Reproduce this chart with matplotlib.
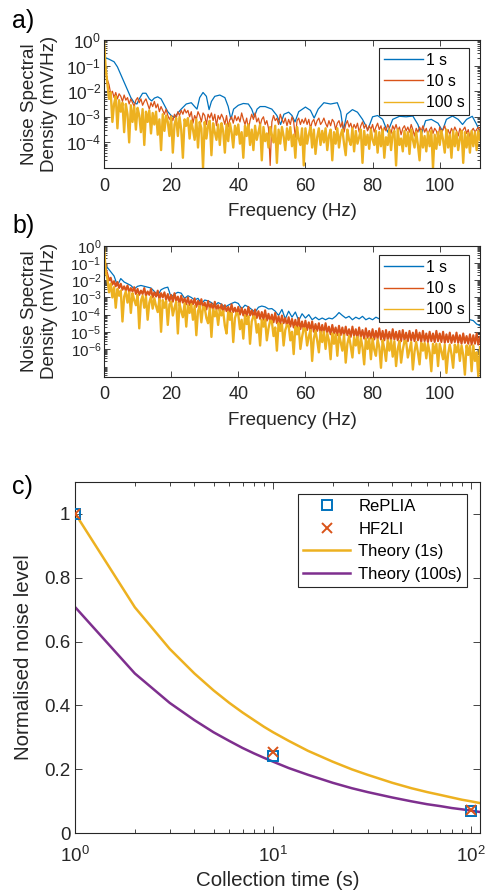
import numpy as np
import matplotlib
matplotlib.use("Agg")
import matplotlib.pyplot as plt
from matplotlib.ticker import LogLocator, NullFormatter

plt.rcParams['font.family'] = ['Liberation Sans', 'DejaVu Sans']
plt.rcParams['mathtext.fontset'] = 'custom'
plt.rcParams['mathtext.rm'] = 'Liberation Sans'
plt.rcParams['mathtext.it'] = 'Liberation Sans:italic'
plt.rcParams['mathtext.bf'] = 'Liberation Sans:bold'

BLUE = '#0072BD'
ORANGE = '#D95319'
YELLOW = '#EDB120'
PURPLE = '#7E2F8E'
AXC = '#262626'

# ---- data (log10 of noise spectral density, mV/Hz) ----
# 10 s and 100 s traces on a 0.5 Hz grid from 0 to 112 Hz
grid_freq = np.arange(0, 112.5, 0.5)

# panel a, 1 s trace: frequency / log10 value pairs
a_1s_freq = [0.3, 1.5, 3, 4, 5, 6, 7, 8, 9, 9.8, 10.5, 11.5, 12.5, 13.5, 14.2, 15, 16, 17, 18, 19,
             20, 21, 22, 23, 24.5, 26, 27, 27.7, 28.5, 29.5, 30.5, 31.3, 32, 33, 34.5, 36, 37, 37.8, 38.6, 40,
             41.5, 43, 44, 44.8, 45.6, 46.5, 48, 50, 51.5, 52.6, 53.6, 55, 56, 56.9, 58, 60, 61.5, 62.6, 63.8, 65.5,
             67.5, 69.5, 70.5, 71.3, 72.3, 74, 75.5, 77, 78.6, 80, 81.5, 83, 84.5, 86, 88, 90, 92, 93.5, 94.5, 95.8,
             97.5, 99.5, 100.8, 102, 103.8, 105.5, 106.8, 108, 109.7, 111, 112]
a_1s_log = [-0.68, -0.75, -0.85, -1.05, -1.35, -1.65, -1.95, -2.25, -2.45, -2.5, -2.3, -2.08, -2.08, -2.3, -2.38, -2.27, -2.22, -2.3, -2.55, -2.8,
            -2.95, -3.02, -2.85, -2.7, -2.5, -2.45, -2.6, -2.7, -2.25, -2.05, -2.2, -2.72, -2.4, -2.2, -2.15, -2.25, -2.6, -3.1, -2.7, -2.55,
            -2.48, -2.5, -2.7, -3.0, -2.7, -2.6, -2.6, -2.7, -2.95, -3.3, -2.9, -2.82, -2.95, -3.2, -2.8, -2.62, -2.75, -3.05, -2.7, -2.45,
            -2.5, -2.45, -2.8, -3.55, -2.9, -2.72, -2.82, -3.1, -3.5, -3.0, -2.95, -3.1, -3.6, -3.1, -2.98, -3.0, -2.97, -3.3, -3.7, -3.15,
            -3.1, -3.25, -3.55, -3.1, -2.97, -3.1, -3.3, -3.1, -2.98, -3.3, -3.6]

a_10s_log = [-0.95, -1.25, -1.55, -1.75, -2.1, -2.0, -2.25, -2.05, -2.3, -2.1,
             -2.2, -2.4, -2.15, -2.35, -2.25, -2.5, -2.3, -2.45, -2.6, -2.35,
             -2.25, -2.45, -2.3, -2.55, -2.4, -2.3, -2.5, -2.7, -2.45, -2.6,
             -2.4, -2.65, -2.5, -2.8, -2.6, -2.75, -2.9, -2.7, -2.95, -3.1,
             -2.95, -3.15, -2.9, -3.05, -2.8, -2.95, -2.75, -2.9, -2.7, -2.85,
             -2.75, -3.0, -2.8, -3.25, -2.95, -3.1, -2.8, -2.95, -3.2, -2.85,
             -2.95, -3.3, -2.9, -3.05, -2.85, -3.15, -2.9, -3.35, -2.95, -3.1,
             -2.9, -3.05, -3.3, -2.95, -3.4, -3.1, -3.0, -3.25, -2.95, -3.15,
             -3.0, -3.2, -2.85, -3.1, -3.3, -3.05, -3.5, -3.15, -2.9, -3.1,
             -2.85, -3.2, -3.05, -3.35, -3.1, -3.0, -3.3, -3.15, -3.45, -4.9,
             -3.2, -2.95, -3.15, -3.05, -3.3, -2.9, -3.1, -3.25, -3.05, -3.35,
             -3.1, -3.3, -3.0, -3.2, -3.8, -3.15, -3.05, -3.3, -3.1, -3.25,
             -3.05, -3.3, -3.1, -3.45, -3.2, -3.1, -3.35, -3.15, -3.05, -3.3,
             -3.2, -3.05, -3.25, -3.4, -3.15, -3.35, -3.1, -3.2, -3.5, -3.25,
             -3.15, -3.4, -3.2, -3.6, -3.3, -3.15, -3.4, -3.25, -3.5, -3.3,
             -3.45, -3.25, -3.6, -3.35, -3.2, -3.45, -3.3, -3.55, -3.35, -3.5,
             -3.3, -3.6, -3.4, -3.25, -3.5, -3.35, -3.7, -3.4, -3.55, -3.3,
             -3.45, -3.65, -3.35, -3.5, -3.3, -3.55, -3.4, -3.7, -3.45, -3.35,
             -3.55, -3.4, -3.6, -3.3, -3.5, -3.75, -3.45, -3.6, -3.4, -3.55,
             -3.35, -3.6, -3.45, -3.7, -3.5, -3.4, -3.65, -3.45, -3.55, -3.8,
             -3.4, -3.6, -3.5, -3.35, -3.65, -3.5, -3.7, -3.45, -3.6, -3.4,
             -3.55, -3.75, -3.45, -3.6, -3.5, -3.4, -3.65, -3.5, -3.8, -3.55,
             -3.45, -3.6, -3.5, -3.4, -3.55]

a_100s_log = [0.0, -1.1, -1.7, -2.3, -2.05, -3.2, -2.5, -2.2, -3.45, -2.35,
              -2.8, -2.45, -3.6, -2.5, -2.9, -4.0, -2.55, -3.2, -2.6, -3.5,
              -2.65, -2.95, -3.6, -2.7, -4.1, -2.8, -3.2, -2.75, -3.65, -2.85,
              -3.3, -2.8, -3.7, -3.1, -4.3, -2.9, -3.55, -2.95, -3.2, -3.75,
              -3.0, -4.4, -3.3, -3.05, -3.75, -3.0, -3.5, -4.6, -3.1, -3.35,
              -3.05, -3.85, -3.15, -3.5, -3.9, -3.1, -4.2, -3.2, -3.45, -5.0,
              -3.2, -3.85, -3.35, -3.15, -4.5, -3.25, -3.6, -3.9, -3.3, -4.1,
              -3.25, -3.55, -4.4, -3.3, -3.95, -3.25, -3.6, -4.2, -3.35, -3.7,
              -3.3, -4.05, -3.6, -4.6, -3.35, -3.75, -3.3, -4.1, -3.5, -4.3,
              -3.35, -3.9, -3.6, -3.3, -4.7, -3.4, -3.95, -3.65, -4.2, -3.4,
              -3.7, -4.0, -3.35, -4.8, -3.5, -4.05, -3.4, -3.75, -4.3, -3.45,
              -3.9, -3.4, -4.15, -3.7, -4.6, -3.4, -3.85, -4.1, -3.45, -4.9,
              -3.45, -4.05, -3.7, -3.4, -4.2, -3.5, -4.45, -3.8, -3.45, -4.1,
              -3.55, -4.0, -3.45, -4.3, -3.75, -3.5, -4.7, -3.6, -4.05, -3.45,
              -4.2, -3.7, -3.5, -4.05, -4.5, -3.5, -3.9, -4.1, -3.45, -4.35,
              -3.55, -4.05, -3.8, -3.5, -4.8, -3.55, -4.1, -3.7, -4.25, -3.5,
              -3.9, -4.1, -3.55, -4.4, -3.6, -4.15, -3.5, -4.6, -3.8, -4.1,
              -3.5, -4.3, -3.65, -3.55, -4.9, -3.5, -4.1, -3.85, -4.35, -3.55,
              -4.15, -3.6, -4.45, -3.5, -3.9, -4.2, -3.6, -4.1, -4.7, -3.55,
              -4.2, -3.75, -4.35, -3.6, -4.15, -3.55, -5.0, -3.7, -4.25, -3.6,
              -4.1, -3.55, -3.9, -4.4, -3.5, -4.2, -3.7, -4.6, -3.55, -4.15,
              -3.6, -4.3, -3.85, -3.55, -4.8, -3.6, -4.2, -3.65, -4.4, -3.55,
              -4.15, -3.6, -4.3, -3.55, -3.9]

# panel b, 1 s trace on a 1 Hz grid from 1 to 112 Hz
b_1s_freq = np.arange(1, 113)
b_1s_log = [-1.25, -1.5, -1.75, -2.3, -1.9, -2.1, -2.2, -2.3, -2.5, -2.35,
            -2.3, -2.35, -2.4, -2.45, -2.65, -2.88, -2.55, -2.45, -2.4, -2.98,
            -2.8, -2.7, -2.75, -3.05, -2.9, -3.0, -3.15, -3.05, -3.37, -3.15,
            -3.2, -3.3, -3.47, -3.3, -3.4, -3.57, -3.45, -3.35, -3.27, -3.35,
            -3.67, -3.45, -3.55, -3.7, -3.86, -3.57, -3.5, -3.55, -3.67, -3.65,
            -3.8, -4.05, -3.7, -4.25, -3.8, -4.15, -3.85, -4.35, -3.95, -4.2,
            -4.0, -4.3, -4.15, -4.3, -4.2, -4.3, -4.2, -4.25, -4.1, -3.88,
            -4.05, -4.2, -4.1, -4.3, -4.15, -4.25, -4.1, -4.3, -4.2, -4.3,
            -4.15, -4.25, -4.1, -4.2, -4.15, -4.28, -4.1, -4.2, -4.15, -4.25,
            -4.1, -4.22, -4.15, -4.28, -4.12, -4.2, -4.15, -4.25, -4.1, -4.2,
            -4.15, -4.28, -4.12, -4.22, -4.15, -4.25, -4.2, -4.25, -4.3, -4.35,
            -4.55, -4.65]

b_10s_log = [-0.45, -1.3, -1.65, -2.0, -1.85, -2.25, -2.05, -2.35, -2.1, -2.45,
             -2.2, -2.55, -2.35, -2.6, -2.3, -2.7, -2.45, -2.65, -2.4, -2.8,
             -2.5, -2.85, -2.6, -2.8, -2.45, -2.9, -2.65, -2.85, -2.5, -3.0,
             -2.7, -2.95, -2.6, -3.1, -2.75, -3.0, -2.7, -3.15, -2.8, -3.2,
             -2.85, -3.25, -2.75, -3.2, -2.95, -3.35, -2.9, -3.3, -3.05, -3.4,
             -3.0, -3.45, -3.15, -3.4, -3.05, -3.55, -3.2, -3.5, -3.1, -3.6,
             -3.3, -3.7, -3.2, -3.65, -3.35, -3.75, -3.25, -3.7, -3.45, -3.8,
             -3.4, -3.85, -3.45, -3.8, -3.55, -3.9, -3.4, -3.85, -3.6, -3.95,
             -3.55, -4.0, -3.6, -4.05, -3.7, -4.1, -3.55, -4.05, -3.75, -4.15,
             -3.7, -4.2, -3.8, -4.25, -3.85, -4.3, -3.75, -4.35, -3.95, -4.4,
             -4.0, -4.45, -3.9, -4.5, -4.1, -4.55, -4.05, -4.5, -4.2, -4.65,
             -4.15, -4.7, -4.25, -4.75, -4.3, -4.8, -4.2, -4.85, -4.4, -4.9,
             -4.35, -4.9, -4.45, -4.95, -4.4, -5.0, -4.55, -4.95, -4.5, -5.05,
             -4.6, -5.1, -4.5, -5.05, -4.7, -5.15, -4.6, -5.1, -4.75, -5.2,
             -4.65, -5.2, -4.75, -5.25, -4.7, -5.2, -4.85, -5.3, -4.7, -5.25,
             -4.85, -5.35, -4.75, -5.3, -4.9, -5.4, -4.8, -5.35, -4.95, -5.4,
             -4.85, -5.45, -4.95, -5.4, -4.8, -5.45, -4.95, -5.5, -4.9, -5.45,
             -5.0, -5.5, -4.85, -5.45, -5.0, -5.5, -4.95, -5.55, -4.9, -5.5,
             -5.05, -5.55, -4.95, -5.5, -5.05, -5.55, -4.9, -5.5, -5.05, -5.6,
             -4.95, -5.55, -5.1, -5.6, -5.0, -5.55, -5.1, -5.6, -4.95, -5.55,
             -5.1, -5.6, -5.0, -5.65, -5.15, -5.6, -5.05, -5.65, -5.2, -5.6,
             -5.05, -5.65, -5.2, -5.7, -5.1, -5.65, -5.25, -5.7, -5.15, -5.75,
             -5.2, -5.7, -5.1, -5.75, -5.3]

b_100s_log = [0.0, -1.5, -1.9, -2.7, -2.2, -3.0, -2.4, -3.6, -2.5, -2.9,
              -2.6, -4.4, -2.95, -2.65, -3.3, -2.7, -3.9, -2.75, -3.15, -3.45,
              -2.85, -4.8, -3.2, -2.9, -3.6, -2.95, -4.3, -3.3, -2.95, -3.65,
              -3.05, -3.5, -3.85, -3.1, -5.0, -3.15, -3.6, -3.2, -4.6, -3.4,
              -3.25, -4.05, -3.6, -3.25, -5.1, -3.35, -3.8, -4.15, -3.35, -4.7,
              -3.45, -3.9, -3.4, -4.3, -3.5, -5.2, -3.8, -3.5, -4.45, -3.55,
              -3.6, -4.2, -4.5, -3.65, -5.3, -3.7, -4.1, -3.75, -4.6, -3.7,
              -4.05, -3.8, -4.65, -5.1, -3.85, -4.3, -3.9, -5.6, -4.2, -3.9,
              -4.0, -4.85, -4.3, -5.4, -4.05, -4.55, -4.1, -5.7, -4.4, -4.1,
              -4.2, -5.05, -4.55, -5.8, -4.3, -4.7, -4.3, -5.5, -4.8, -4.35,
              -4.4, -5.25, -4.75, -6.1, -4.5, -4.95, -4.55, -5.8, -4.9, -4.6,
              -4.65, -5.5, -5.0, -6.3, -4.7, -5.15, -4.75, -6.0, -5.3, -4.8,
              -4.85, -5.8, -5.3, -4.9, -6.7, -5.4, -4.95, -5.5, -6.2, -5.0,
              -5.6, -5.0, -6.0, -5.1, -5.5, -6.6, -5.1, -5.7, -5.15, -6.4,
              -5.15, -5.6, -6.1, -5.2, -6.8, -5.7, -5.25, -5.85, -6.5, -5.3,
              -5.8, -5.3, -6.25, -5.35, -5.9, -6.9, -5.4, -6.0, -5.4, -6.6,
              -5.4, -6.05, -6.4, -5.45, -5.9, -7.1, -5.5, -6.0, -6.7, -5.5,
              -6.1, -5.5, -6.45, -5.55, -7.0, -6.0, -5.55, -6.8, -6.05, -5.55,
              -5.55, -6.5, -6.05, -5.6, -7.2, -6.15, -5.6, -6.2, -6.9, -5.65,
              -6.1, -5.65, -6.55, -5.7, -6.2, -7.3, -5.7, -6.25, -5.7, -7.0,
              -5.7, -6.15, -6.6, -5.75, -7.4, -6.3, -5.75, -6.3, -7.1, -5.75,
              -6.2, -5.75, -6.7, -5.8, -6.35, -7.5, -5.8, -6.35, -5.8, -7.3,
              -5.8, -6.7, -6.2, -7.6, -5.9]

# panel c
time_s = [1, 10, 100]
replia = [1.0, 0.241, 0.071]
hf2li = [1.0, 0.255, 0.074]
theory_t = [1, 2, 3, 4, 5, 6, 7, 8, 9, 10, 12, 15, 20, 25, 30, 40, 50, 60, 70, 80, 90, 100, 110]
theory_1s = [1.0, 0.707, 0.577, 0.5, 0.447, 0.408, 0.378, 0.354, 0.333, 0.316, 0.289, 0.258,
             0.224, 0.2, 0.183, 0.158, 0.141, 0.129, 0.120, 0.112, 0.105, 0.1, 0.095]
theory_100s = [0.707, 0.5, 0.408, 0.354, 0.316, 0.289, 0.267, 0.25, 0.236, 0.224, 0.204, 0.183,
               0.158, 0.141, 0.129, 0.112, 0.1, 0.091, 0.085, 0.079, 0.075, 0.071, 0.067]

W, H = 487, 896
fig = plt.figure(figsize=(W / 100, H / 100), dpi=100)


def box(l, t, r, b):
    return [l / W, 1 - b / H, (r - l) / W, (b - t) / H]


def style_axes(ax, fs):
    for s in ax.spines.values():
        s.set_color(AXC)
        s.set_linewidth(0.8)
    ax.tick_params(which='both', direction='in', top=True, right=True,
                   color=AXC, labelcolor=AXC, labelsize=fs, width=0.6)
    ax.tick_params(which='major', length=4)
    ax.tick_params(which='minor', length=2)


def spectrum_panel(ax, f1, y1, y10, y100, ylo, exps, leg_anchor, lw10, yfs):
    ax.plot(f1, 10.0 ** np.array(y1), color=BLUE, lw=0.9, label='1 s')
    ax.plot(grid_freq, 10.0 ** np.array(y10), color=ORANGE, lw=lw10, label='10 s')
    ax.plot(grid_freq, 10.0 ** np.array(y100), color=YELLOW, lw=1.7, label='100 s')
    ax.set_yscale('log')
    ax.set_xlim(0, 112)
    ax.set_ylim(ylo, 1)
    ax.set_xticks([0, 20, 40, 60, 80, 100])
    ax.set_yticks([10.0 ** e for e in exps])
    ax.set_yticklabels([r'$10^{%d}$' % e for e in exps])
    ax.yaxis.set_minor_locator(LogLocator(base=10, subs=np.arange(2, 10), numticks=60))
    ax.yaxis.set_minor_formatter(NullFormatter())
    style_axes(ax, 13)
    ax.tick_params(axis='y', pad=2, labelsize=yfs)
    ax.tick_params(axis='x', pad=7)
    ax.set_xlabel('Frequency (Hz)', fontsize=13.5, color=AXC)
    ax.xaxis.set_label_coords(0.5, -0.27)
    ax.set_ylabel('Noise Spectral\nDensity (mV/Hz)', fontsize=13.5, color=AXC, linespacing=1.25)
    ax.yaxis.set_label_coords(-0.122, 0.5)
    leg = ax.legend(loc='upper right', bbox_to_anchor=leg_anchor, borderaxespad=0,
                    fontsize=11.3, handlelength=2.5, handletextpad=0.15, labelspacing=0.4,
                    borderpad=0.3, fancybox=False, framealpha=1, edgecolor=AXC)
    leg.get_frame().set_linewidth(0.8)
    for ln in leg.get_lines():
        ln.set_linewidth(1.0)


ax_a = fig.add_axes(box(104, 40, 480, 168))
spectrum_panel(ax_a, a_1s_freq, a_1s_log, a_10s_log, a_100s_log, 1e-5,
               [0, -1, -2, -3, -4], (0.971, 0.9375), 0.9, 12.5)

ax_b = fig.add_axes(box(104, 246, 480, 376.7))
spectrum_panel(ax_b, b_1s_freq, b_1s_log, b_10s_log, b_100s_log, 2.4e-8,
               [0, -1, -2, -3, -4, -5, -6], (0.971, 0.931), 1.5, 11)

ax_c = fig.add_axes(box(75.3, 481.7, 480, 833.3))
ax_c.plot(time_s, replia, 's', mfc='none', mec=BLUE, ms=7.5, mew=1.4, label='RePLIA', zorder=4)
ax_c.plot(time_s, hf2li, 'x', color=ORANGE, ms=6.5, mew=1.4, label='HF2LI', zorder=5)
ax_c.plot(theory_t, theory_1s, color=YELLOW, lw=1.8, label='Theory (1s)')
ax_c.plot(theory_t, theory_100s, color=PURPLE, lw=1.8, label='Theory (100s)')
ax_c.set_xscale('log')
ax_c.set_xlim(1, 111)
ax_c.set_ylim(0, 1.1)
ax_c.set_xticks([1, 10, 100])
ax_c.set_xticklabels([r'$10^{0}$', r'$10^{1}$', r'$10^{2}$'])
ax_c.xaxis.set_minor_locator(LogLocator(base=10, subs=np.arange(2, 10), numticks=20))
ax_c.xaxis.set_minor_formatter(NullFormatter())
ax_c.set_yticks([0, 0.2, 0.4, 0.6, 0.8, 1.0])
ax_c.set_yticklabels(['0', '0.2', '0.4', '0.6', '0.8', '1'])
style_axes(ax_c, 13.5)
ax_c.tick_params(which='major', length=5)
ax_c.tick_params(which='minor', length=3)
ax_c.tick_params(axis='x', pad=9)
ax_c.set_xlabel('Collection time (s)', fontsize=14.8, color=AXC)
ax_c.xaxis.set_label_coords(0.5, -0.107)
ax_c.set_ylabel('Normalised noise level', fontsize=14.8, color=AXC)
ax_c.yaxis.set_label_coords(-0.105, 0.5)
leg = ax_c.legend(loc='upper right', bbox_to_anchor=(0.968, 0.965), borderaxespad=0,
                  fontsize=12, handlelength=2.8, handletextpad=0.5, labelspacing=0.45,
                  borderpad=0.3, fancybox=False, framealpha=1, edgecolor=AXC)
leg.get_frame().set_linewidth(0.8)

fig.text(12 / W, 1 - 28 / H, 'a)', fontsize=18, color='black', va='baseline')
fig.text(12 / W, 1 - 233 / H, 'b)', fontsize=18, color='black', va='baseline')
fig.text(12 / W, 1 - 494 / H, 'c)', fontsize=18, color='black', va='baseline')

fig.savefig('out.png', dpi=100)
